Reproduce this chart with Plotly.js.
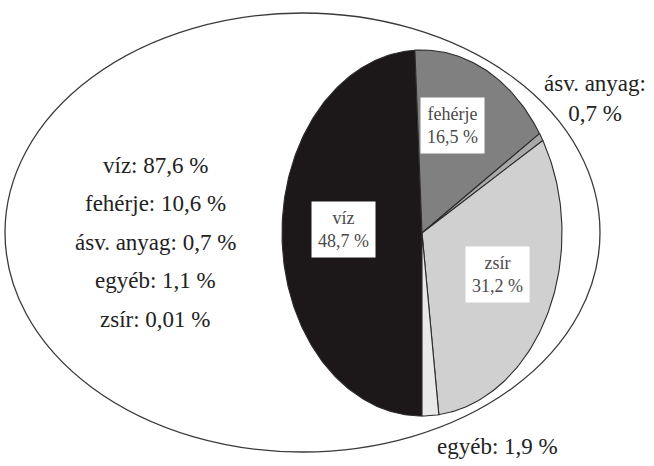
<!DOCTYPE html>
<html>
<head>
<meta charset="utf-8">
<script src="https://cdn.plot.ly/plotly-3.0.1.min.js"></script>
<style>html,body{margin:0;padding:0;background:#fff}#chart{width:654px;height:466px}</style>
</head>
<body>
<div id="chart"></div>
<script>
// Inner pie composition
const pieLabels = ['víz', 'fehérje', 'ásv. anyag', 'zsír', 'egyéb'];
const pieValues = [48.7, 16.5, 0.7, 31.2, 1.9];
// Outer (whole) composition listed as text
const wholeLabels = ['víz', 'fehérje', 'ásv. anyag', 'egyéb', 'zsír'];
const wholeValues = [87.6, 10.6, 0.7, 1.1, 0.01];

const pieColors = ['#1c1819', '#808080', '#a9a9a9', '#d0d0d0', '#e9e9e9'];
const FONT = 'Liberation Serif';

function fmt(v) { return String(v).replace('.', ',') + ' %'; }

// pie geometry (axis units == pixels)
const cx = 422, cy = 233, rx = 140, ry = 183;
const startAngle = 180; // degrees clockwise from top (bottom)

const total = pieValues.reduce((a, b) => a + b, 0);
const traces = [];
let a = startAngle;
pieValues.forEach((v, i) => {
  const span = v / total * 360;
  const xs = [cx], ys = [cy];
  const n = Math.max(2, Math.ceil(span));
  for (let k = 0; k <= n; k++) {
    const t = (a + span * k / n) * Math.PI / 180;
    xs.push(cx + rx * Math.sin(t));
    ys.push(cy - ry * Math.cos(t));
  }
  xs.push(cx); ys.push(cy);
  traces.push({
    type: 'scatter', mode: 'lines', x: xs, y: ys, fill: 'toself',
    fillcolor: pieColors[i], line: {color: '#2b2b2b', width: 1.1},
    name: pieLabels[i], hoveron: 'fills',
    text: pieLabels[i] + ': ' + fmt(v), hoverinfo: 'text', showlegend: false
  });
  a += span;
});

const annotations = [];
// whole composition text list
wholeLabels.forEach((l, i) => {
  annotations.push({
    xref: 'x', yref: 'y', x: 155, y: 165 + i * 38.5, showarrow: false,
    text: l + ': ' + fmt(wholeValues[i]),
    font: {family: FONT, size: 23, color: '#222'}
  });
});
// boxed labels in pie
const boxPos = {'víz': [343, 229], 'fehérje': [452, 125], 'zsír': [497, 274]};
pieLabels.forEach((l, i) => {
  if (boxPos[l]) {
    annotations.push({
      xref: 'x', yref: 'y', x: boxPos[l][0], y: boxPos[l][1], showarrow: false,
      text: l + '<br>' + fmt(pieValues[i]), bgcolor: '#ffffff', borderpad: 6,
      font: {family: FONT, size: 18, color: '#4a4a4a'}
    });
  }
});
// outside labels for small slices
const idxAsv = pieLabels.indexOf('ásv. anyag');
annotations.push({
  xref: 'x', yref: 'y', x: 595, y: 98, showarrow: false,
  text: pieLabels[idxAsv] + ':<br>' + fmt(pieValues[idxAsv]),
  font: {family: FONT, size: 23, color: '#222'}
});
const idxEgy = pieLabels.indexOf('egyéb');
annotations.push({
  xref: 'x', yref: 'y', x: 497, y: 446, showarrow: false,
  text: pieLabels[idxEgy] + ': ' + fmt(pieValues[idxEgy]),
  font: {family: FONT, size: 23, color: '#222'}
});

const layout = {
  width: 654, height: 466,
  margin: {l: 0, r: 0, t: 0, b: 0},
  paper_bgcolor: '#fff', plot_bgcolor: '#fff',
  font: {family: FONT},
  xaxis: {range: [0, 654], visible: false, fixedrange: true},
  yaxis: {range: [466, 0], visible: false, fixedrange: true},
  shapes: [{
    type: 'circle', xref: 'x', yref: 'y', x0: 5, x1: 600, y0: 13, y1: 452,
    line: {color: '#3a3a3a', width: 1.3}, layer: 'below'
  }],
  annotations: annotations,
  showlegend: false
};

Plotly.newPlot('chart', traces, layout, {displayModeBar: false});
</script>
</body>
</html>
